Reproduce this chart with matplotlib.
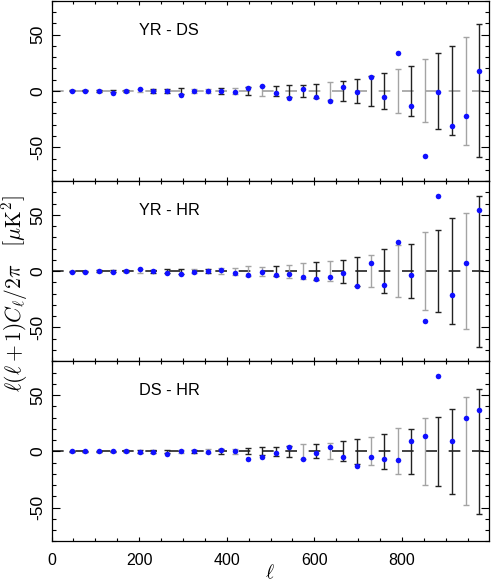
import matplotlib
matplotlib.use("Agg")
import matplotlib.pyplot as plt
from matplotlib.gridspec import GridSpec
from matplotlib.ticker import MultipleLocator

plt.rcParams['font.family'] = ['Liberation Sans', 'DejaVu Sans']
plt.rcParams['mathtext.fontset'] = 'cm'
plt.rcParams['axes.unicode_minus'] = False

# multipole bin centres
ell = [46.5, 77.5, 108.5, 139.5, 170.5, 201.5, 232.5, 263.5, 294.5, 325.5,
       356.5, 387.5, 418.5, 449.5, 480.5, 511.5, 542.5, 573.5, 604.5, 635.5,
       666.5, 697.5, 728.5, 759.5, 790.5, 821.5, 852.5, 883.5, 914.5, 945.5,
       976.5]

labels = ['YR - DS', 'YR - HR', 'DS - HR']

# differences (points) and expected scatter (bars around zero)
yr_ds = [-0.5, -0.5, -0.2, -1.5, 0.0, 1.8, 0.3, 0.3, -3.5, -0.2, 0.0, -0.2,
         -1.0, 2.7, 4.4, -2.0, -5.9, 1.5, -5.6, -9.0, 3.2, -1.2, 12.4, -5.6,
         33.6, -13.0, -57.8, -1.0, -31.0, -22.7, 18.0]
yr_ds_err = [0.5, 0.5, 0.6, 0.8, 0.9, 1.3, 1.4, 1.6, 2.3, 2.0, 2.1, 2.5,
             3.0, 3.8, 4.5, 4.5, 5.0, 5.5, 6.5, 8.3, 9.0, 10.3, 13.3, 16.0,
             19.5, 22.3, 28.0, 33.6, 39.5, 47.6, 59.0]
yr_ds_grey = [5, 9, 10, 12, 14, 19, 24, 26, 29]

yr_hr = [-0.5, -0.5, 0.0, -0.5, 0.3, 1.8, 0.0, -1.5, -2.7, -0.5, 0.0, 0.6,
         -1.2, -3.8, -0.6, -3.2, -2.7, -5.3, -7.1, -5.3, -1.5, -13.6, 7.4,
         -12.1, 26.3, -3.2, -44.2, 66.4, -21.5, 6.8, 54.3]
yr_hr_err = [0.5, 0.5, 0.6, 0.7, 0.9, 1.8, 1.2, 1.5, 2.3, 2.0, 1.5, 2.5,
             3.0, 4.5, 4.0, 4.7, 5.9, 7.0, 7.8, 8.7, 10.3, 13.0, 13.9, 19.3,
             22.9, 23.7, 34.8, 36.3, 46.9, 51.6, 67.0]
yr_hr_grey = [5, 9, 11, 12, 13, 14, 16, 17, 19, 22, 24, 26, 29]

ds_hr = [0.0, 0.0, 0.0, 0.6, 0.3, -0.3, -0.9, -2.1, 0.6, 0.0, -0.3, 0.9,
         0.3, -6.5, -4.7, -1.8, 3.5, -6.5, -1.8, 3.5, -4.7, -12.7, -5.0,
         -6.5, -7.4, 9.4, 13.6, 67.3, 9.4, 29.5, 36.3]
ds_hr_err = [0.5, 0.5, 0.6, 0.7, 0.8, 1.0, 1.2, 1.3, 1.5, 1.5, 1.8, 2.0,
             2.0, 2.7, 3.5, 3.8, 5.0, 6.5, 6.2, 7.0, 8.8, 10.8, 12.5, 15.5,
             20.5, 20.3, 29.5, 30.4, 38.0, 48.0, 55.6]
ds_hr_grey = [8, 10, 12, 17, 19, 22, 24, 26, 29]

panels = [(yr_ds, yr_ds_err, yr_ds_grey, '#a0a0a0'),
          (yr_hr, yr_hr_err, yr_hr_grey, '#222222'),
          (ds_hr, ds_hr_err, ds_hr_grey, '#222222')]

fig = plt.figure(figsize=(4.91, 5.83), dpi=100)
gs = GridSpec(3, 1, left=0.105, right=0.996, top=0.9986, bottom=0.0712, hspace=0)

for i, (vals, errs, grey, zcol) in enumerate(panels):
    ax = fig.add_subplot(gs[i])
    lw0 = 1.2
    ax.axhline(0, color=zcol, lw=lw0, dashes=(8.4 / lw0, 8.4 / lw0), zorder=1)

    for colour, pick in (('#a4a4a4', True), ('#222222', False)):
        idx = [k for k in range(len(ell)) if (k in grey) == pick]
        ax.errorbar([ell[k] for k in idx], [0] * len(idx),
                    yerr=[errs[k] for k in idx], fmt='none', ecolor=colour,
                    elinewidth=1.0, capsize=2.5, capthick=1.0, zorder=2)
    ax.plot(ell, vals, 'o', color='#1010ff', ms=4, mec='none', zorder=3)

    ax.text(200, 54, labels[i], fontsize=11.7, va='center', ha='left')

    ax.set_xlim(0, 999)
    ax.set_ylim(-80, 80)
    ax.xaxis.set_major_locator(MultipleLocator(200))
    ax.xaxis.set_minor_locator(MultipleLocator(50))
    ax.yaxis.set_major_locator(MultipleLocator(50))
    ax.yaxis.set_minor_locator(MultipleLocator(10))
    ax.tick_params(which='both', direction='in', top=True, right=True, width=0.8)
    ax.tick_params(axis='x', which='major', length=3.1, pad=8, labelsize=11.5)
    ax.tick_params(axis='x', which='minor', length=2)
    ax.tick_params(axis='y', which='major', length=6, pad=4.5,
                   labelrotation=90, labelsize=12.5)
    ax.tick_params(axis='y', which='minor', length=3)
    for t in ax.get_yticklabels():
        t.set_va('center')
    if i < 2:
        ax.tick_params(axis='x', labelbottom=False)
    for s in ax.spines.values():
        s.set_linewidth(0.9)

fig.text(0.031, 0.496, r'$\ell(\ell+1)C_\ell/2\pi\quad\left[\mu\mathrm{K}^2\right]$',
         rotation=90, ha='center', va='center', fontsize=15.5)
fig.text(0.55, 0.018, r'$\ell$', ha='center', va='center', fontsize=14)

fig.savefig('out.png', dpi=100)
